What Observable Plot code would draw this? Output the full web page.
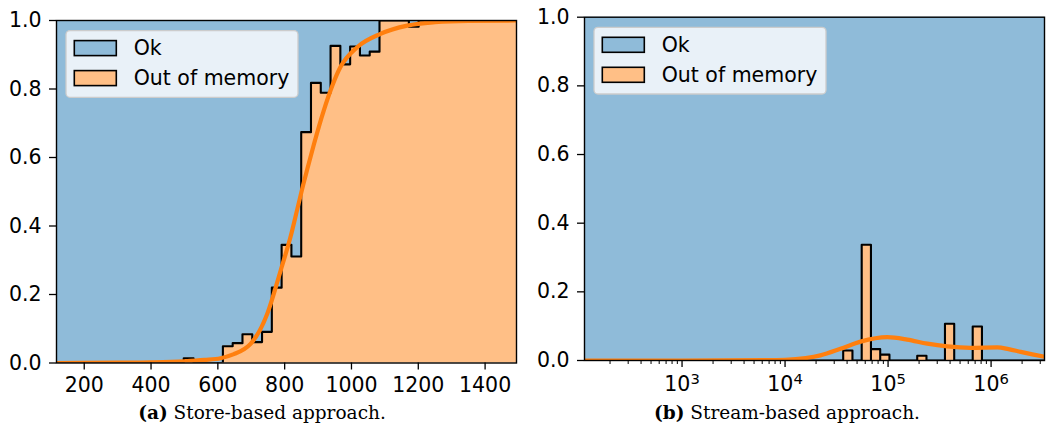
<!DOCTYPE html>
<html><head><meta charset="utf-8">
<script src="https://cdn.jsdelivr.net/npm/d3@7"></script>
<script src="https://cdn.jsdelivr.net/npm/@observablehq/plot@0.6"></script>
<style>
body{margin:0;background:#fff;}
#root{position:relative;width:1051px;height:432px;overflow:hidden;}
#root > svg{position:absolute;}
</style></head><body><div id="root"></div>
<script>
// ---------- data ----------
const legendLabels = ["Ok", "Out of memory"];
const captions = [["(a)", " Store-based approach."], ["(b)", " Stream-based approach."]];
const yTicks = [0, 0.2, 0.4, 0.6, 0.8, 1.0];

// (a) store-based: histogram bin edges and share of "Out of memory" per bin
const storeDomain = [117, 1494];
const storeXTicks = [200, 400, 600, 800, 1000, 1200, 1400];
const storeEdges = [117.0, 146.3, 175.6, 204.9, 234.2, 263.5, 292.8, 322.1, 351.4, 380.7,
  410.0, 439.3, 468.6, 497.9, 527.2, 556.5, 585.8, 615.1, 644.4, 673.7,
  703.0, 732.3, 761.6, 790.9, 820.2, 849.5, 878.8, 908.1, 937.4, 966.7,
  996.0, 1025.3, 1054.6, 1083.9, 1113.2, 1142.5, 1171.8, 1201.1, 1230.4, 1259.7,
  1289.0, 1318.3, 1347.6, 1376.9, 1406.2, 1435.5, 1464.8, 1494.1];
const storeOOM = [0, 0, 0, 0, 0, 0, 0, 0, 0, 0,
  0, 0, 0, 0.014, 0, 0, 0, 0.049, 0.058, 0.084,
  0.061, 0.091, 0.22, 0.345, 0.311, 0.674, 0.818, 0.789, 0.926, 0.872,
  0.924, 0.898, 0.909, 1, 1, 1, 0.982, 1, 1, 1,
  1, 1, 1, 1, 1, 1, 1];
const storeKdeX = [117, 300, 400, 500, 560, 608, 648, 678, 698, 748, 788, 818, 838, 858, 868, 888, 917, 967, 1017, 1087, 1167, 1250, 1350, 1494];
const storeKdeY = [0.0, 0.001, 0.002, 0.005, 0.009, 0.014, 0.026, 0.04, 0.056, 0.144, 0.27, 0.37, 0.45, 0.53, 0.567, 0.64, 0.737, 0.864, 0.922, 0.961, 0.985, 0.995, 0.999, 1.0];

// (b) stream-based: log x, non-empty bins (lower edge, upper edge, OOM share)
const streamDomain = [113, 3.3e6];
const streamXTicks = [1e3, 1e4, 1e5, 1e6];
const streamBinLo = [36670, 55463, 68200, 83870, 191800, 356700, 663100];
const streamBinHi = [45100, 68200, 83870, 103130, 235900, 438500, 815300];
const streamOOM = [0.029, 0.337, 0.033, 0.017, 0.014, 0.107, 0.099];
const streamKdeX = [113, 1000, 6310, 10000, 15850, 22080, 34510, 54080, 98170, 153500, 240400, 375800, 633900, 1151000, 1479000, 1941000, 2512000, 3300000];
const streamKdeY = [0, 0, 0.001, 0.002, 0.007, 0.015, 0.034, 0.055, 0.068, 0.061, 0.049, 0.041, 0.037, 0.038, 0.033, 0.025, 0.018, 0.011];

// ---------- styling ----------
const BLUE = "#8fbbd9", ORANGE = "#ffbf86", LINE = "#ff7f0e";
const root = document.getElementById("root");

function stepFromEdges(edges, vals) {
  const pts = vals.map((v, i) => ({x: edges[i], y: v}));
  pts.push({x: edges[edges.length - 1], y: vals[vals.length - 1]});
  return pts;
}
function stepFromBins(domain, lo, hi, vals) {
  const pts = [{x: domain[0], y: 0}];
  lo.forEach((l, i) => { pts.push({x: l, y: vals[i]}); pts.push({x: hi[i], y: 0}); });
  pts.push({x: domain[1], y: 0});
  return pts;
}

function panel({step, kde, xOpts, xAxes, width, height, margins, left}) {
  const svg = Plot.plot({
    width, height,
    marginLeft: margins[0], marginRight: margins[1], marginTop: margins[2], marginBottom: margins[3],
    style: {fontFamily: "DejaVu Sans", fontSize: "20.5px", color: "black", background: "transparent"},
    x: xOpts,
    y: {domain: [0, 1]},
    marks: [
      Plot.areaY(step, {x: "x", y1: "y", y2: 1, curve: "step-after", fill: BLUE}),
      Plot.areaY(step, {x: "x", y1: 0, y2: "y", curve: "step-after", fill: ORANGE}),
      Plot.line(step, {x: "x", y: "y", curve: "step-after", stroke: "black", strokeWidth: 2.1, clip: true}),
      Plot.line(kde, {x: "x", y: "y", curve: "monotone-x", stroke: LINE, strokeWidth: 4.2, clip: true}),
      Plot.frame({stroke: "black", strokeWidth: 1.4}),
      Plot.axisY({ticks: yTicks, tickFormat: d3.format(".1f"), tickSize: 7, tickPadding: 8, label: null, strokeWidth: 1.3}),
      ...xAxes
    ]
  });
  svg.style.left = left + "px";
  svg.style.top = "0px";
  root.appendChild(svg);
  return svg;
}

// (a)
panel({
  step: stepFromEdges(storeEdges, storeOOM),
  kde: storeKdeX.map((x, i) => ({x, y: storeKdeY[i]})),
  xOpts: {type: "linear", domain: storeDomain},
  xAxes: [Plot.axisX({ticks: storeXTicks, tickFormat: d3.format("d"), tickSize: 7, tickPadding: 7, label: null, strokeWidth: 1.3})],
  width: 530, height: 400, margins: [56, 14, 20, 37.5], left: 0
});

// (b)
const minor = d3.scaleLog().domain(streamDomain).ticks().filter(t => !streamXTicks.includes(t));
const sb = panel({
  step: stepFromBins(streamDomain, streamBinLo, streamBinHi, streamOOM),
  kde: streamKdeX.map((x, i) => ({x, y: streamKdeY[i]})),
  xOpts: {type: "log", domain: streamDomain},
  xAxes: [
    Plot.axisX({ticks: minor, tickFormat: () => "", tickSize: 4, label: null, strokeWidth: 1}),
    Plot.axisX({ticks: streamXTicks, tickFormat: d => "10^" + Math.round(Math.log10(d)), tickSize: 7, tickPadding: 9, label: null, strokeWidth: 1.3})
  ],
  width: 521, height: 400, margins: [54, 7, 16.7, 40], left: 530
});
// superscript exponents
d3.select(sb).selectAll("text").each(function () {
  const t = this.textContent;
  const m = /^10\^(\d+)$/.exec(t);
  if (m) {
    const s = d3.select(this);
    s.text("10");
    s.append("tspan").attr("dy", "-0.45em").attr("font-size", "0.72em").text(m[1]);
  }
});

// ---------- legends and captions overlay ----------
const ov = d3.select(root).append("svg")
  .attr("width", 1051).attr("height", 432)
  .style("left", "0px").style("top", "0px");
[[66, 30.6], [594, 27.3]].forEach(([bx, by]) => {
  const g = ov.append("g").attr("transform", `translate(${bx},${by})`);
  g.append("rect").attr("x", 0).attr("y", 0).attr("width", 232).attr("height", 66.7)
    .attr("rx", 4).attr("fill", "rgba(255,255,255,0.8)").attr("stroke", "#cccccc").attr("stroke-width", 1.3);
  legendLabels.forEach((lab, i) => {
    g.append("rect").attr("x", 8.3).attr("y", 10 + i * 30).attr("width", 42).attr("height", 15)
      .attr("fill", i === 0 ? BLUE : ORANGE).attr("stroke", "black").attr("stroke-width", 1.6);
    g.append("text").attr("x", 67.7).attr("y", 24.6 + i * 30)
      .attr("font-family", "DejaVu Sans").attr("font-size", 20.5).attr("fill", "black").text(lab);
  });
});
[[262, 419], [787, 419]].forEach(([cx, cy], i) => {
  const t = ov.append("text").attr("x", cx).attr("y", cy).attr("text-anchor", "middle")
    .attr("font-family", "DejaVu Serif").attr("font-size", 18.5).attr("fill", "black");
  t.append("tspan").attr("font-weight", "bold").text(captions[i][0]);
  t.append("tspan").text(captions[i][1]);
});
</script></body></html>
